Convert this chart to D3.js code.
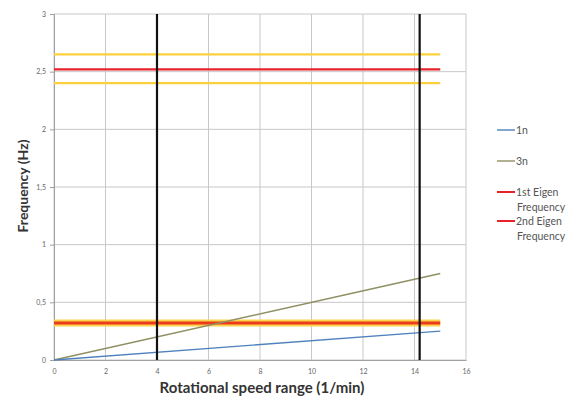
<!DOCTYPE html>
<html>
<head>
<meta charset="utf-8">
<script src="https://cdn.jsdelivr.net/npm/d3@7"></script>
<style>
  body { margin: 0; background: #fff; }
  svg { font-family: Lato, "Open Sans", sans-serif; }
</style>
</head>
<body>
<div id="chart"></div>
<script>
// speed values (1/min) where the excitation lines are sampled
const speeds = [0, 15];
const oneN = [0, 0.25];
const threeN = [0, 0.75];

// horizontal eigen frequency bands (Hz), drawn from 0 to 15 1/min
const eigenRange = [0, 15];
const eigenLines = [
  { name: "1st Eigen", value: 2.52, band: [2.40, 2.65] },
  { name: "2nd Eigen", value: 0.31, band: [0.31, 0.33] },
];

// vertical operating limits (1/min)
const speedLimits = [4, 14.2];

const xTicks = [0, 2, 4, 6, 8, 10, 12, 14, 16];
const yTicks = [0, 0.5, 1, 1.5, 2, 2.5, 3];

const legendItems = [
  { label: ["1n"], color: "#4f81bd" },
  { label: ["3n"], color: "#8f8f64" },
  { label: ["1st Eigen", "Frequency"], color: "#e8212b" },
  { label: ["2nd Eigen", "Frequency"], color: "#e8212b" },
];

const W = 566, H = 402;
const margin = { left: 54, right: 100, top: 14, bottom: 42 };

const svg = d3.select("#chart")
  .append("svg")
  .attr("width", W)
  .attr("height", H);

const x = d3.scaleLinear().domain([0, 16]).range([margin.left, W - margin.right]);
const y = d3.scaleLinear().domain([0, 3]).range([H - margin.bottom, margin.top]);

const fmt = (d) => String(d).replace(".", ",");

// grid
svg.append("g")
  .selectAll("line.vg")
  .data(xTicks)
  .enter()
  .append("line")
  .attr("x1", (d) => x(d)).attr("x2", (d) => x(d))
  .attr("y1", y(0)).attr("y2", y(3))
  .attr("stroke", "#c8c8c8")
  .attr("stroke-width", 1);

svg.append("g")
  .selectAll("line.hg")
  .data(yTicks)
  .enter()
  .append("line")
  .attr("x1", x(0)).attr("x2", x(16))
  .attr("y1", (d) => y(d)).attr("y2", (d) => y(d))
  .attr("stroke", "#c8c8c8")
  .attr("stroke-width", 1);

// axes
const xAxis = svg.append("g")
  .attr("transform", `translate(0,${y(0)})`)
  .call(d3.axisBottom(x).tickValues(xTicks).tickSize(0).tickPadding(9).tickFormat(fmt));
const yAxis = svg.append("g")
  .attr("transform", `translate(${x(0)},0)`)
  .call(d3.axisLeft(y).tickValues(yTicks).tickSize(4).tickPadding(4).tickFormat(fmt));

[xAxis, yAxis].forEach((g) => {
  g.select(".domain").attr("stroke", "#a0a0a0");
  g.selectAll(".tick line").attr("stroke", "#a0a0a0");
  g.selectAll("text")
    .attr("fill", "#666")
    .style("font-size", "7px")
    .style("font-family", "Lato, sans-serif");
});

// eigen frequency bands
const eigen = svg.append("g");
eigenLines.forEach((e) => {
  if (e.band[1] - e.band[0] > 0.1) {
    e.band.forEach((b) => {
      eigen.append("line")
        .attr("x1", x(eigenRange[0])).attr("x2", x(eigenRange[1]))
        .attr("y1", y(b)).attr("y2", y(b))
        .attr("stroke", "#fbd03c")
        .attr("stroke-width", 2.2);
    });
    eigen.append("line")
      .attr("x1", x(eigenRange[0])).attr("x2", x(eigenRange[1]))
      .attr("y1", y(e.value)).attr("y2", y(e.value))
      .attr("stroke", "#e8212b")
      .attr("stroke-width", 2.4);
  } else {
    const mid = (e.band[0] + e.band[1]) / 2;
    eigen.append("line")
      .attr("x1", x(eigenRange[0])).attr("x2", x(eigenRange[1]))
      .attr("y1", y(mid)).attr("y2", y(mid))
      .attr("stroke", "#fcd24a")
      .attr("stroke-width", 7);
    eigen.append("line")
      .attr("x1", x(eigenRange[0])).attr("x2", x(eigenRange[1]))
      .attr("y1", y(mid)).attr("y2", y(mid))
      .attr("stroke", "#ec3b1c")
      .attr("stroke-width", 3);
  }
});

// excitation lines
const line = d3.line()
  .x((d, i) => x(speeds[i]))
  .y((d) => y(d));

svg.append("path")
  .datum(threeN)
  .attr("d", line)
  .attr("fill", "none")
  .attr("stroke", "#8f8f64")
  .attr("stroke-width", 1.4);

svg.append("path")
  .datum(oneN)
  .attr("d", line)
  .attr("fill", "none")
  .attr("stroke", "#4f81bd")
  .attr("stroke-width", 1.4);

// vertical limits
svg.append("g")
  .selectAll("line")
  .data(speedLimits)
  .enter()
  .append("line")
  .attr("x1", (d) => x(d)).attr("x2", (d) => x(d))
  .attr("y1", y(0)).attr("y2", y(3))
  .attr("stroke", "#111")
  .attr("stroke-width", 2.2);

// titles
svg.append("text")
  .attr("x", 262)
  .attr("y", 393)
  .attr("text-anchor", "middle")
  .style("font-size", "15px")
  .style("font-weight", "bold")
  .attr("fill", "#333")
  .text("Rotational speed range (1/min)");

svg.append("text")
  .attr("transform", "translate(28,186) rotate(-90)")
  .attr("text-anchor", "middle")
  .style("font-size", "14px")
  .style("font-weight", "bold")
  .attr("fill", "#333")
  .text("Frequency (Hz)");

// legend
const legendY = [130, 161, 192, 221];
const legend = svg.append("g");
legendItems.forEach((item, i) => {
  const ly = legendY[i];
  legend.append("line")
    .attr("x1", 497).attr("x2", 515)
    .attr("y1", ly).attr("y2", ly)
    .attr("stroke", item.color)
    .attr("stroke-width", item.label.length > 1 ? 2 : 1.4);
  item.label.forEach((t, k) => {
    legend.append("text")
      .attr("x", k === 0 ? 516 : 517)
      .attr("y", ly + 4 + k * 15)
      .style("font-size", "10.5px")
      .attr("fill", "#555")
      .text(t);
  });
});
</script>
</body>
</html>
